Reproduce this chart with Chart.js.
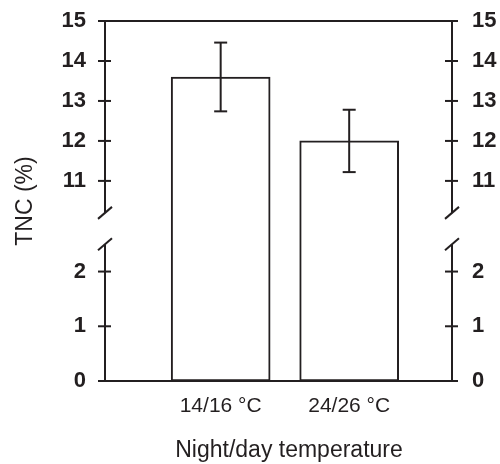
<!DOCTYPE html>
<html>
<head>
<meta charset="utf-8">
<title>TNC (%)</title>
<script src="https://cdn.jsdelivr.net/npm/chart.js@4.4.1/dist/chart.umd.min.js"></script>
<style>
  html, body { margin: 0; padding: 0; background: #fff; }
  canvas { display: block; }
</style>
</head>
<body>
<canvas id="chartTnc" width="500" height="464"></canvas>
<script>
// Chart data
const categories = ['14/16 °C', '24/26 °C'];
const categoryPositions = [1, 2];
const tncValues = [13.6, 12.0];
const tncErrors = [0.86, 0.78];
const yTickValues = [0, 1, 2, 11, 12, 13, 14, 15];
const xTitle = 'Night/day temperature';

// Broken y axis: lower part 0..breakLow, upper part breakHigh..15
const breakLow = 2.5;
const breakHigh = 10.2;
// share of plot height (from the bottom) where each part ends/starts
const lowShare = 0.38;
const highShare = 0.467;

const lineColor = '#231f20';
const fontFamily = '"Liberation Sans", Arial, Helvetica, sans-serif';

// Linear scale with a piecewise mapping (gap between the two parts)
class BrokenScale extends Chart.LinearScale {
    valueToDecimal(v) {
        if (v <= breakLow) {
            return (v - this.min) / (breakLow - this.min) * lowShare;
        }
        if (v >= breakHigh) {
            return highShare + (v - breakHigh) / (this.max - breakHigh) * (1 - highShare);
        }
        return lowShare + (v - breakLow) / (breakHigh - breakLow) * (highShare - lowShare);
    }
    getPixelForValue(value) {
        return this.getPixelForDecimal(this.valueToDecimal(value));
    }
    getValueForPixel(pixel) {
        const d = this.getDecimalForPixel(pixel);
        if (d <= lowShare) {
            return this.min + d / lowShare * (breakLow - this.min);
        }
        if (d >= highShare) {
            return breakHigh + (d - highShare) / (1 - highShare) * (this.max - breakHigh);
        }
        return breakLow + (d - lowShare) / (highShare - lowShare) * (breakHigh - breakLow);
    }
}
BrokenScale.id = 'broken';
BrokenScale.defaults = Chart.LinearScale.defaults;
Chart.register(BrokenScale);

// Frame, ticks, axis breaks, error bars and the x title
const frameLines = {
    id: 'frameLines',
    afterDatasetsDraw(chart) {
        const ctx = chart.ctx;
        const area = chart.chartArea;
        const yScale = chart.scales.y;
        const yHigh = yScale.getPixelForValue(breakHigh);
        const yLow = yScale.getPixelForValue(breakLow);

        function seg(x1, y1, x2, y2) {
            ctx.beginPath();
            ctx.moveTo(x1, y1);
            ctx.lineTo(x2, y2);
            ctx.stroke();
        }

        ctx.save();
        ctx.strokeStyle = lineColor;
        ctx.lineWidth = 2;

        // top and bottom lines
        seg(area.left, area.top, area.right, area.top);
        seg(area.left, area.bottom, area.right, area.bottom);

        [area.left, area.right].forEach(x => {
            // vertical axis with a gap
            seg(x, area.top, x, yHigh);
            seg(x, yLow, x, area.bottom);
            // break marks
            seg(x - 7, yHigh + 6, x + 7, yHigh - 6);
            seg(x - 7, yLow + 6, x + 7, yLow - 6);
            // tick marks crossing the axis
            yTickValues.forEach(v => {
                const py = yScale.getPixelForValue(v);
                seg(x - 7, py, x + 6, py);
            });
        });

        // error bars
        const meta = chart.getDatasetMeta(0);
        meta.data.forEach((bar, i) => {
            const top = yScale.getPixelForValue(tncValues[i] + tncErrors[i]);
            const bottom = yScale.getPixelForValue(tncValues[i] - tncErrors[i]);
            seg(bar.x, top, bar.x, bottom);
            seg(bar.x - 6.5, top, bar.x + 6.5, top);
            seg(bar.x - 6.5, bottom, bar.x + 6.5, bottom);
        });

        // x axis title (a little right of the plot centre, as in the original)
        ctx.fillStyle = lineColor;
        ctx.font = '23px ' + fontFamily;
        ctx.textAlign = 'center';
        ctx.textBaseline = 'alphabetic';
        ctx.fillText(xTitle, 289, 457);
        ctx.restore();
    }
};

const yTickFont = { family: fontFamily, size: 22, weight: 'bold' };

new Chart(document.getElementById('chartTnc').getContext('2d'), {
    type: 'bar',
    data: {
        datasets: [{
            data: tncValues.map((v, i) => ({ x: categoryPositions[i], y: v })),
            backgroundColor: '#ffffff',
            borderColor: lineColor,
            borderWidth: 2,
            borderSkipped: false,
            barThickness: 99
        }]
    },
    options: {
        responsive: false,
        animation: false,
        layout: { padding: { top: 21, left: 0, right: 0, bottom: 0 } },
        plugins: {
            legend: { display: false },
            tooltip: { enabled: false }
        },
        scales: {
            x: {
                type: 'linear',
                min: 0.1,
                max: 2.8,
                offset: false,
                afterBuildTicks: s => { s.ticks = categoryPositions.map(v => ({ value: v })); },
                afterFit: s => { s.height = 83; s.paddingLeft = 0; s.paddingRight = 0; },
                grid: { display: false, drawTicks: false },
                border: { display: false },
                ticks: {
                    autoSkip: false,
                    maxRotation: 0,
                    padding: 13,
                    color: lineColor,
                    font: { family: fontFamily, size: 21 },
                    callback: (v, i) => categories[i]
                }
            },
            y: {
                type: 'broken',
                position: 'left',
                min: 0,
                max: 15,
                afterBuildTicks: s => { s.ticks = yTickValues.map(v => ({ value: v })); },
                afterFit: s => { s.width = 105; s.paddingTop = 0; s.paddingBottom = 0; },
                grid: { display: false, drawTicks: false },
                border: { display: false },
                ticks: {
                    autoSkip: false,
                    padding: 19,
                    color: lineColor,
                    font: yTickFont
                },
                title: {
                    display: true,
                    text: 'TNC (%)',
                    color: lineColor,
                    font: { family: fontFamily, size: 23 },
                    padding: { top: 12, bottom: 0 }
                }
            },
            y2: {
                type: 'broken',
                position: 'right',
                min: 0,
                max: 15,
                afterBuildTicks: s => { s.ticks = yTickValues.map(v => ({ value: v })); },
                afterFit: s => { s.width = 48; s.paddingTop = 0; s.paddingBottom = 0; },
                grid: { display: false, drawTicks: false },
                border: { display: false },
                ticks: {
                    autoSkip: false,
                    padding: 20,
                    color: lineColor,
                    font: yTickFont
                }
            }
        }
    },
    plugins: [frameLines]
});
</script>
</body>
</html>
